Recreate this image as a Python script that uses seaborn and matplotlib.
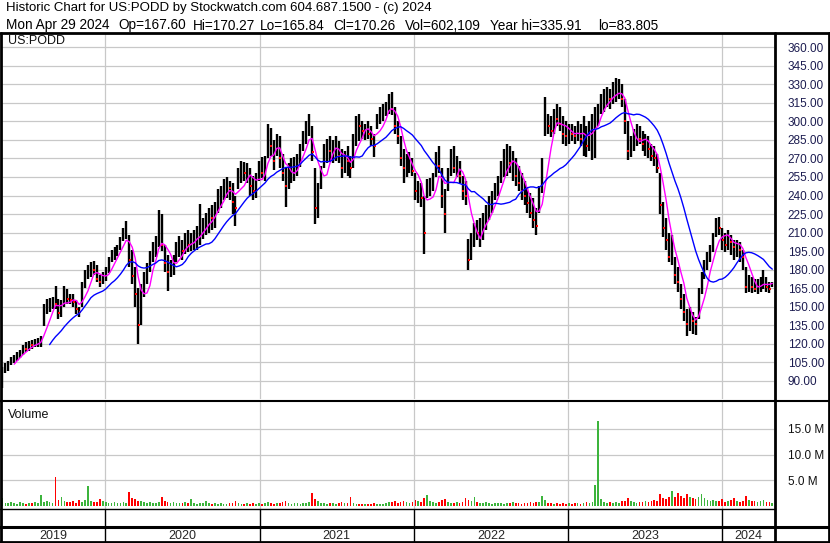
import numpy as np
import pandas as pd
import matplotlib
matplotlib.use("Agg")
import matplotlib.pyplot as plt
import seaborn as sns

sns.set_style("white")
plt.rcParams["font.family"] = ["Liberation Sans", "DejaVu Sans"]

# ---------------- data ----------------
header1 = "Historic Chart for US:PODD by Stockwatch.com 604.687.1500 - (c) 2024"
header2_fields = ["Mon Apr 29 2024", "Op=167.60", "Hi=170.27", "Lo=165.84", "Cl=170.26",
                  "Vol=602,109", "Year hi=335.91", "lo=83.805"]
symbol = "US:PODD"
year_labels = ["2019", "2020", "2021", "2022", "2023", "2024"]
year_starts = ["2020-01-01", "2021-01-01", "2022-01-01", "2023-01-01", "2024-01-01"]
price_ticks = [90, 105, 120, 135, 150, 165, 180, 195, 210, 225, 240, 255,
               270, 285, 300, 315, 330, 345, 360]
vol_ticks = [5, 10, 15]
vol_tick_labels = ["5.0 M", "10.0 M", "15.0 M"]

week_low = [84, 96, 98, 103, 104, 106, 108, 111, 113, 114, 116, 117, 117, 117, 134, 144, 146, 148, 148, 140,
            142, 150, 152, 152, 150, 144, 142, 150, 165, 172, 174, 176, 170, 166, 168, 171, 177, 186, 188, 191,
            196, 203, 205, 182, 168, 150, 120, 135, 158, 168, 178, 186, 190, 198, 195, 178, 163, 174, 176, 186,
            190, 188, 193, 194, 195, 196, 196, 200, 205, 208, 210, 212, 214, 226, 230, 236, 238, 236, 225, 215,
            245, 250, 252, 250, 240, 236, 238, 252, 254, 252, 270, 272, 261, 272, 262, 252, 231, 245, 250, 252,
            256, 263, 276, 282, 288, 268, 217, 222, 245, 262, 266, 268, 266, 268, 266, 254, 258, 256, 254, 262,
            280, 284, 286, 285, 286, 280, 271, 294, 298, 300, 304, 306, 305, 290, 282, 264, 250, 255, 258, 256,
            236, 234, 231, 193, 238, 240, 244, 255, 258, 230, 210, 244, 256, 258, 255, 250, 236, 232, 180, 188,
            198, 204, 198, 204, 212, 220, 226, 236, 240, 250, 255, 256, 258, 252, 248, 244, 236, 232, 226, 222,
            214, 208, 226, 242, 288, 290, 287, 290, 296, 292, 282, 280, 282, 284, 282, 284, 280, 272, 271, 276,
            269, 270, 296, 306, 308, 312, 310, 314, 316, 318, 312, 290, 269, 271, 276, 280, 282, 276, 272, 270,
            268, 264, 258, 225, 206, 196, 186, 184, 168, 162, 148, 138, 126, 130, 128, 127, 140, 160, 172, 180,
            186, 194, 206, 208, 196, 194, 196, 192, 188, 190, 186, 180, 161, 162, 161, 162, 160, 162, 164, 162,
            161, 165.84]
week_high = [101, 104, 106, 109, 111, 113, 115, 119, 121, 122, 123, 124, 125, 126, 152, 156, 157, 158, 167, 156,
             155, 167, 164, 160, 160, 155, 150, 170, 180, 184, 186, 187, 184, 176, 178, 182, 190, 196, 198, 200,
             206, 214, 219, 208, 196, 182, 165, 168, 178, 185, 195, 202, 207, 228, 225, 200, 192, 188, 192, 202,
             207, 204, 210, 212, 210, 212, 215, 233, 222, 226, 230, 232, 235, 245, 248, 253, 255, 252, 250, 240,
             262, 268, 267, 266, 262, 256, 258, 268, 271, 272, 298, 295, 285, 290, 288, 274, 262, 266, 270, 271,
             274, 282, 292, 300, 306, 296, 262, 250, 264, 282, 286, 288, 285, 288, 284, 278, 276, 280, 272, 290,
             304, 306, 300, 298, 300, 296, 290, 306, 312, 314, 316, 322, 324, 312, 300, 288, 278, 274, 275, 270,
             258, 252, 250, 240, 253, 254, 258, 275, 280, 262, 245, 262, 278, 280, 272, 268, 256, 252, 205, 210,
             218, 220, 222, 226, 232, 240, 244, 250, 256, 268, 278, 282, 280, 276, 270, 264, 258, 252, 246, 242,
             238, 230, 248, 270, 320, 306, 304, 310, 314, 312, 304, 300, 298, 298, 296, 300, 298, 304, 296, 300,
             306, 312, 314, 322, 326, 328, 326, 332, 335, 334, 330, 318, 300, 288, 294, 298, 296, 292, 290, 288,
             282, 280, 274, 258, 235, 222, 210, 208, 190, 182, 168, 160, 148, 150, 146, 142, 165, 178, 188, 194,
             200, 210, 222, 223, 214, 210, 212, 208, 204, 204, 202, 196, 182, 176, 174, 172, 172, 174, 180, 174,
             170, 170.27]
week_close = [97, 101, 104, 106, 109, 111, 113, 117, 116, 120, 119, 121, 122, 123, 146, 150, 152, 155, 152, 145,
              150, 162, 156, 155, 154, 148, 146, 166, 176, 178, 182, 180, 172, 170, 172, 180, 186, 192, 194, 197,
              204, 210, 214, 188, 175, 160, 135, 160, 172, 178, 190, 196, 200, 220, 200, 185, 178, 180, 186, 196,
              200, 195, 203, 200, 205, 206, 210, 212, 216, 220, 224, 222, 230, 238, 242, 244, 250, 246, 235, 230,
              255, 262, 258, 260, 248, 244, 252, 262, 258, 268, 290, 280, 268, 285, 270, 258, 248, 258, 262, 264,
              270, 276, 288, 292, 300, 275, 230, 240, 258, 276, 280, 276, 278, 282, 272, 262, 270, 268, 262, 285,
              298, 296, 292, 294, 290, 286, 280, 300, 306, 308, 312, 316, 310, 296, 288, 270, 262, 266, 268, 260,
              244, 244, 238, 210, 246, 248, 252, 268, 264, 240, 225, 255, 270, 262, 264, 256, 244, 240, 188, 200,
              212, 210, 215, 220, 226, 232, 236, 244, 250, 262, 268, 274, 266, 270, 256, 250, 244, 240, 234, 226,
              220, 215, 242, 262, 300, 296, 292, 304, 302, 298, 290, 288, 294, 290, 288, 292, 286, 296, 280, 290,
              300, 304, 308, 316, 318, 320, 318, 324, 326, 326, 318, 300, 276, 280, 286, 290, 286, 282, 284, 278,
              272, 270, 262, 232, 214, 204, 190, 198, 176, 170, 156, 146, 136, 140, 138, 136, 160, 172, 180, 188,
              194, 204, 216, 214, 204, 200, 206, 202, 198, 200, 196, 190, 166, 168, 166, 164, 166, 168, 176, 166,
              164, 170.26]
week_volume_m = [1.5, 0.6, 0.5, 0.7, 0.5, 0.4, 0.8, 0.5, 0.4, 0.6, 0.5, 0.7, 0.6, 2.1, 0.8, 1.0, 0.7, 0.6, 5.6, 1.2,
                 1.8, 1.0, 0.8, 0.7, 0.9, 0.6, 1.2, 0.8, 1.1, 3.9, 1.0, 0.8, 0.7, 1.4, 0.9, 0.7, 0.6, 0.5, 0.8, 0.6,
                 0.5, 0.7, 0.6, 2.7, 1.5, 1.3, 1.0, 0.9, 0.8, 0.6, 0.7, 0.5, 0.6, 0.8, 1.8, 0.9, 0.7, 0.6, 0.8, 0.5,
                 0.6, 0.5, 0.8, 0.6, 1.3, 0.5, 0.4, 0.5, 0.6, 1.0, 0.5, 0.4, 0.6, 0.4, 0.5, 0.3, 0.4, 0.5, 0.6, 0.9,
                 0.5, 0.4, 0.3, 0.5, 0.4, 0.6, 0.3, 0.5, 0.4, 0.6, 0.7, 0.5, 0.4, 0.6, 0.5, 0.8, 0.9, 0.5, 0.4, 0.6,
                 0.5, 0.4, 0.6, 0.5, 0.7, 2.5, 1.4, 0.9, 0.6, 0.5, 0.4, 0.5, 0.6, 0.4, 0.5, 0.7, 0.5, 0.6, 1.8, 0.5,
                 0.4, 0.3, 0.4, 0.3, 0.4, 0.3, 0.5, 0.4, 0.3, 0.4, 0.5, 0.8, 0.7, 0.9, 0.6, 0.8, 1.0, 0.7, 0.6, 0.8,
                 1.2, 0.9, 0.8, 1.6, 2.1, 1.0, 0.7, 0.6, 0.8, 1.1, 1.3, 0.8, 0.6, 0.5, 0.7, 0.6, 0.8, 1.5, 1.2, 0.9,
                 1.7, 0.8, 0.6, 0.5, 0.7, 0.6, 0.4, 0.5, 0.6, 0.5, 0.4, 0.6, 0.5, 0.7, 0.6, 0.5, 0.4, 0.6, 0.5, 0.7,
                 0.6, 0.8, 0.7, 1.9, 1.2, 0.6, 0.5, 0.4, 0.5, 0.4, 0.5, 0.4, 0.6, 0.4, 0.5, 0.6, 0.4, 0.5, 0.7, 0.6,
                 0.8, 4.1, 16.5, 1.3, 0.8, 0.6, 0.7, 0.5, 0.8, 0.6, 0.9, 1.0, 1.5, 0.9, 0.7, 0.6, 0.8, 0.7, 1.0, 0.8,
                 0.9, 1.1, 1.0, 2.3, 1.6, 1.4, 1.8, 3.0, 1.7, 2.5, 1.9, 1.6, 2.4, 1.8, 1.5, 1.3, 1.7, 2.3, 1.5, 1.2,
                 1.0, 1.1, 0.9, 1.0, 1.3, 0.8, 0.9, 1.1, 1.6, 0.9, 0.8, 1.0, 2.0, 1.2, 0.9, 1.0, 0.8, 0.9, 1.1, 0.8,
                 0.7, 0.6]

dates = pd.date_range("2019-05-03", "2024-04-29", periods=len(week_close))
df = pd.DataFrame({"date": dates, "low": week_low, "high": week_high,
                   "close": week_close, "vol": week_volume_m})
df["ma_short"] = df["close"].rolling(5).mean()
df["ma_long"] = df["close"].rolling(17).mean()
df["down"] = df["close"].diff() < 0

# ---------------- layout helpers ----------------
W, H = 830, 543
fig = plt.figure(figsize=(W / 100, H / 100), dpi=100)
fig.patch.set_facecolor("white")


def px_axes(x0, y0, x1, y1, **kw):
    return fig.add_axes([x0 / W, 1 - y1 / H, (x1 - x0) / W, (y1 - y0) / H], **kw)


XL = (pd.Timestamp("2019-05-02"), pd.Timestamp("2024-05-03"))
GRID = "#c8c8c8"
FS = 8.5

# ---------------- price panel ----------------
ax = px_axes(2, 34, 774, 399)
ax.set_xlim(*XL)
ax.set_ylim(75.2, 370.8)
for p in price_ticks:
    ax.axhline(p, color=GRID, lw=0.9, zorder=0)
for d in year_starts:
    ax.axvline(pd.Timestamp(d), color=GRID, lw=0.9, zorder=0)

ax.vlines(df["date"], df["low"], df["high"], color="black", lw=1.7, zorder=2)
dn = df[df["down"]]
ax.scatter(dn["date"] + pd.Timedelta(days=1), dn["close"], marker="s", s=3.5,
           color="red", linewidths=0, zorder=3)
sns.lineplot(data=df, x="date", y="ma_short", color="#ff00ff", lw=1.0, ax=ax, zorder=4)
sns.lineplot(data=df, x="date", y="ma_long", color="#0000ff", lw=1.0, ax=ax, zorder=4)

ax.yaxis.tick_right()
ax.set_yticks(price_ticks)
ax.set_yticklabels([f"{p:.2f}" for p in price_ticks])
ax.tick_params(axis="y", length=0, pad=10, labelsize=FS, labelcolor="#1c1c50")
ax.set_xticks([])
ax.set_xlabel("")
ax.set_ylabel("")
for s in ax.spines.values():
    s.set_visible(False)
ax.text(0.008, 0.997, symbol, transform=ax.transAxes, fontsize=FS + 0.5,
        va="top", ha="left", color="#111111")

# ---------------- volume panel ----------------
av = px_axes(2, 402, 774, 509)
av.set_xlim(*XL)
av.set_ylim(-0.58, 20.2)
for v in vol_ticks:
    av.axhline(v, color=GRID, lw=0.9, zorder=0)
for d in year_starts:
    av.axvline(pd.Timestamp(d), color=GRID, lw=0.9, zorder=0)
vcolors = np.where(df["down"], "#ff0000", "#3cb43c")
av.bar(df["date"], df["vol"], width=4.0, color=vcolors, linewidth=0, zorder=2)
av.yaxis.tick_right()
av.set_yticks(vol_ticks)
av.set_yticklabels(vol_tick_labels)
av.tick_params(axis="y", length=0, pad=10, labelsize=FS, labelcolor="#111111")
av.set_xticks([])
for s in av.spines.values():
    s.set_visible(False)
av.text(0.008, 0.93, "Volume", transform=av.transAxes, fontsize=FS + 0.5,
        va="top", ha="left", color="#111111")

# ---------------- year strip ----------------
ay = px_axes(2, 527, 774, 543)
ay.set_xlim(*XL)
ay.set_ylim(0, 1)
edges = [XL[0]] + [pd.Timestamp(d) for d in year_starts] + [XL[1]]
for d in year_starts:
    ay.axvline(pd.Timestamp(d), color="black", lw=1.0)
for lab, a, b in zip(year_labels, edges[:-1], edges[1:]):
    ay.text(a + (b - a) / 2, 0.45, lab, ha="center", va="center", fontsize=FS + 0.5)
ay.set_xticks([])
ay.set_yticks([])
for s in ay.spines.values():
    s.set_visible(False)

as_ = px_axes(2, 509, 774, 527)
as_.set_xlim(*XL)
for d in year_starts:
    as_.axvline(pd.Timestamp(d), color="black", lw=1.0)
as_.set_xticks([])
as_.set_yticks([])
for s in as_.spines.values():
    s.set_visible(False)

# ---------------- frame lines & header ----------------
bg = fig.add_axes([0, 0, 1, 1], zorder=10)
bg.set_xlim(0, W)
bg.set_ylim(H, 0)
bg.patch.set_alpha(0)
bg.axis("off")
K = "black"
bg.plot([0, W], [33, 33], color=K, lw=2.0)
bg.plot([1, 1], [33, H], color=K, lw=2.0)
bg.plot([W - 1.5, W - 1.5], [33, H], color=K, lw=2.0)
bg.plot([774.5, 774.5], [33, H], color=K, lw=2.0)
bg.plot([0, W], [400.5, 400.5], color=K, lw=1.5)
bg.plot([0, 774.5], [509, 509], color=K, lw=1.0)
bg.plot([0, W], [527, 527], color=K, lw=2.2)
bg.plot([0, W], [H - 1, H - 1], color=K, lw=2.0)

bg.text(6, 8.5, header1, fontsize=FS + 1, va="center", ha="left", color="black")
field_x = [6, 118, 193, 260, 333, 405, 490, 598]
for fx, txt in zip(field_x, header2_fields):
    bg.text(fx, 25.5, txt, fontsize=FS + 1.3, va="center", ha="left", color="black")

fig.savefig("out.png", dpi=100)
